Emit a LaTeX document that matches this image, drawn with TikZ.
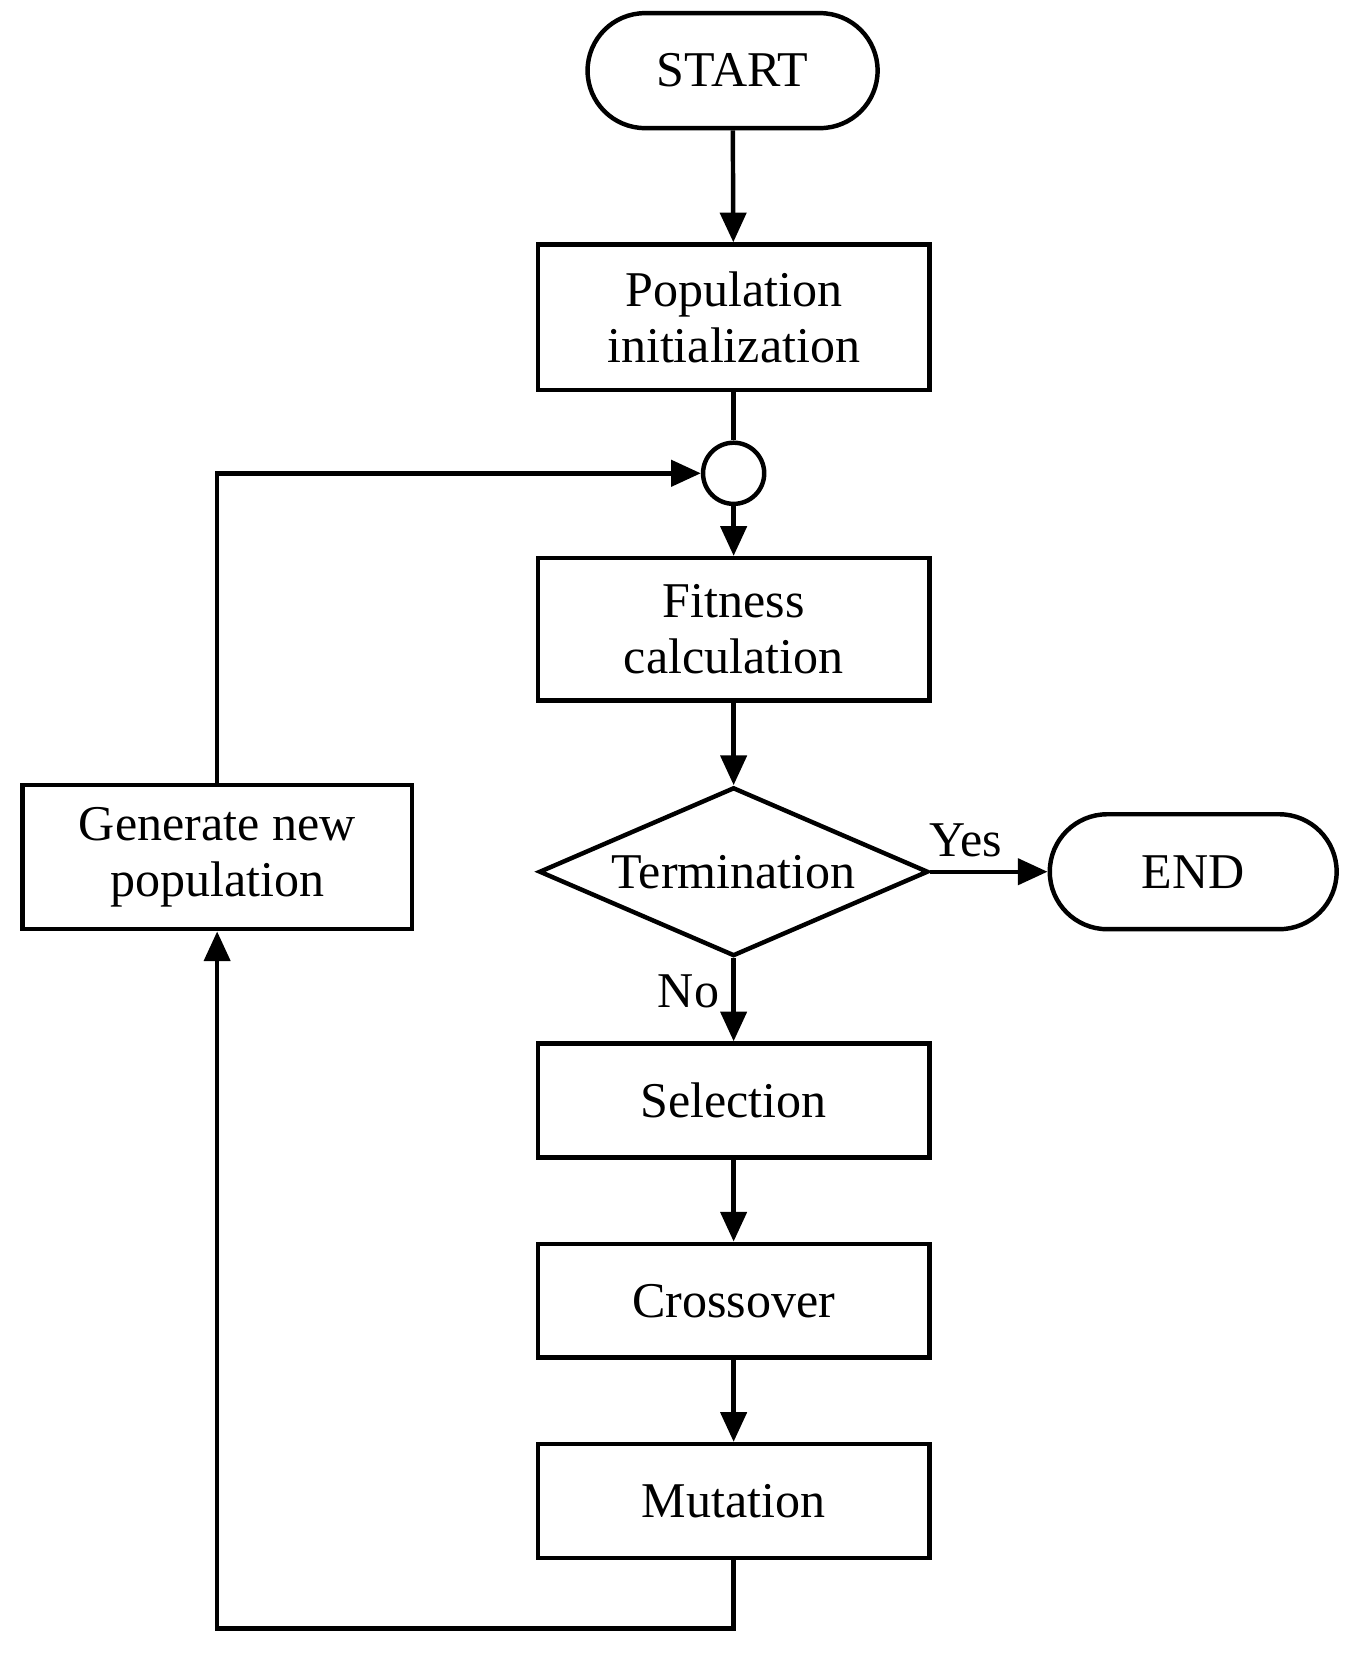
\documentclass[tikz,border=0pt]{standalone}
\usepackage{fontspec}
\setmainfont{Liberation Serif}
\usetikzlibrary{arrows.meta, shapes.geometric}
\begin{document}
\begin{tikzpicture}[x=0.01cm, y=-0.01cm,
    >={Triangle[length=8pt,width=7pt]},
    line width=1.2pt,
    font=\fontsize{13.5}{15}\selectfont,
    box/.style={draw, rectangle, minimum width=3.71cm, align=center, inner sep=0pt},
    term/.style={draw, rounded rectangle, minimum width=2.73cm, minimum height=1.09cm},
    flow/.style={->}
]
\useasboundingbox (0,0) rectangle (1280,1572);

%-------------------------------------------------
% Nodes
%-------------------------------------------------
\node[draw, rectangle, rounded corners=0.545cm, minimum width=2.75cm, minimum height=1.09cm] (start) at (695,67) {START};
\node[box, minimum height=1.38cm] (init) at (696,301) {Population\\initialization};
\node[draw, circle, minimum size=0.58cm, inner sep=0pt] (join) at (696,449) {};
\node[box, minimum height=1.35cm] (fit) at (696,597) {Fitness\\calculation};
\node[draw, diamond, aspect=2.3, minimum width=3.69cm, minimum height=1.6cm, inner sep=0pt] (term) at (696,827) {Termination};
\node[draw, rectangle, rounded corners=0.545cm, minimum width=2.72cm, minimum height=1.09cm] (end) at (1132,827) {END};
\node[box, minimum height=1.08cm] (sel) at (696,1044) {Selection};
\node[box, minimum height=1.08cm] (cross) at (696,1234) {Crossover};
\node[box, minimum height=1.08cm] (mut) at (696,1424) {Mutation};
\node[box, minimum width=3.69cm, minimum height=1.37cm] (gen) at (206,813) {Generate new\\population};

\coordinate (c1) at (696,1545);
\coordinate (c2) at (206,1545);
\coordinate (c3) at (206,449);

%-------------------------------------------------
% Connectors
%-------------------------------------------------
\draw[flow] (start) -- (init);
\draw (init) -- (join);
\draw[flow] (join) -- (fit);
\draw[flow] (fit) -- (term);
\draw[flow] (term) -- node[above, pos=0.3] {Yes} (end);
\draw[flow] (term) -- node[left, pos=0.4] {No} (sel);
\draw[flow] (sel) -- (cross);
\draw[flow] (cross) -- (mut);
\draw[flow] (mut.south) -- (c1) -- (c2) -- (gen.south);
\draw[flow] (gen.north) -- (c3) -- (join.west);
\end{tikzpicture}
\end{document}
